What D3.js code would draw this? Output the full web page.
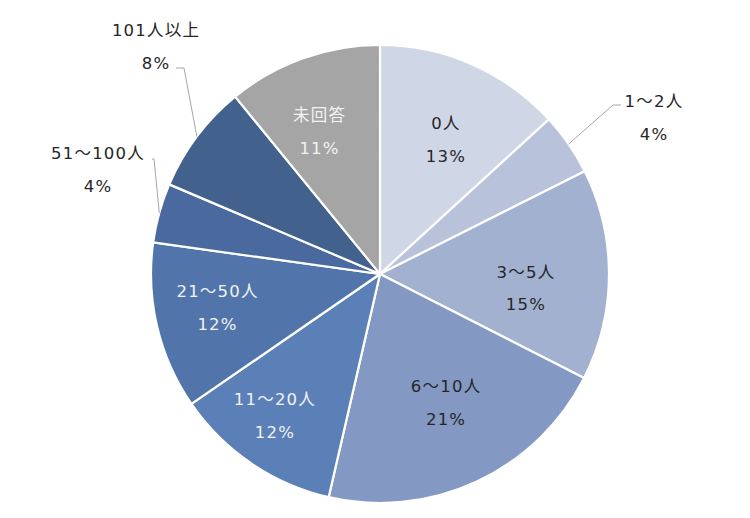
<!DOCTYPE html>
<html><head><meta charset="utf-8">
<script src="https://cdn.jsdelivr.net/npm/d3@7"></script>
<style>body{margin:0;background:#fff}svg{display:block}</style>
</head><body>
<svg id="c" width="750" height="518"></svg>
<script>
const categories = ["0人","1～2人","3～5人","6～10人","11～20人","21～50人","51～100人","101人以上","未回答"];
const values = [13.2, 4.4, 14.9, 21.1, 11.8, 11.8, 4.2, 7.7, 10.9];
const percentLabels = ["13%","4%","15%","21%","12%","12%","4%","8%","11%"];
const colors = ["#CFD6E6","#B8C3DB","#A3B1D1","#8399C4","#5B80B8","#5175AA","#4A6A9F","#42618D","#A5A5A5"];
const textColors = ["#262626","#262626","#262626","#262626","#F2F2F2","#F2F2F2","#262626","#262626","#F2F2F2"];
// label placement: inside (radius factor, angle shift in degrees) or outside (offset from center + leader elbow)
const labelLayout = [
  {r:0.658, da:2.2},
  {out:[274,-157.5], elbow:[233,-169], end:[241,-169]},
  {r:0.640, da:5.1},
  {r:0.629, da:-2.3},
  {r:0.768, da:2.5},
  {r:0.724, da:1.8},
  {out:[-282,-105], elbow:[-226,-115], end:[-228,-115]},
  {out:[-224,-228.5], elbow:[-196,-206], end:[-204,-206]},
  {r:0.678, da:-3.3}
];

const cx=380,cy=274,R=229;
const svg=d3.select("#c");
const g=svg.append("g").attr("transform",`translate(${cx},${cy})`);
const pie=d3.pie().sort(null).value(d=>d)(values);
const arc=d3.arc().innerRadius(0).outerRadius(R);
g.selectAll("path.s").data(pie).join("path").attr("class","s")
  .attr("d",arc).attr("fill",(d,i)=>colors[i]).attr("stroke","#fff").attr("stroke-width",2.2).attr("stroke-linejoin","round");

const font='"DejaVu Sans","Noto Sans CJK JP",sans-serif';
pie.forEach((d,i)=>{
  const L=labelLayout[i];
  const mid=(d.startAngle+d.endAngle)/2;
  let x,y;
  if(L.out){
    x=L.out[0]; y=L.out[1];
    const sx=Math.sin(mid)*R, sy=-Math.cos(mid)*R;
    g.append("polyline").attr("points",[[sx,sy],L.elbow,L.end].map(p=>p.join(",")).join(" "))
      .attr("fill","none").attr("stroke","#A6A6A6").attr("stroke-width",1);
  } else {
    const a=mid+L.da*Math.PI/180, rr=R*L.r;
    x=Math.sin(a)*rr; y=-Math.cos(a)*rr;
  }
  const t=g.append("text").attr("text-anchor","middle")
    .attr("font-family",font).attr("font-size",16.5).attr("letter-spacing",1.2)
    .attr("fill",L.out?"#262626":textColors[i]);
  t.append("tspan").attr("x",x).attr("y",y-10).text(categories[i]);
  t.append("tspan").attr("x",x).attr("y",y+23).text(percentLabels[i]);
});
</script>
</body></html>
